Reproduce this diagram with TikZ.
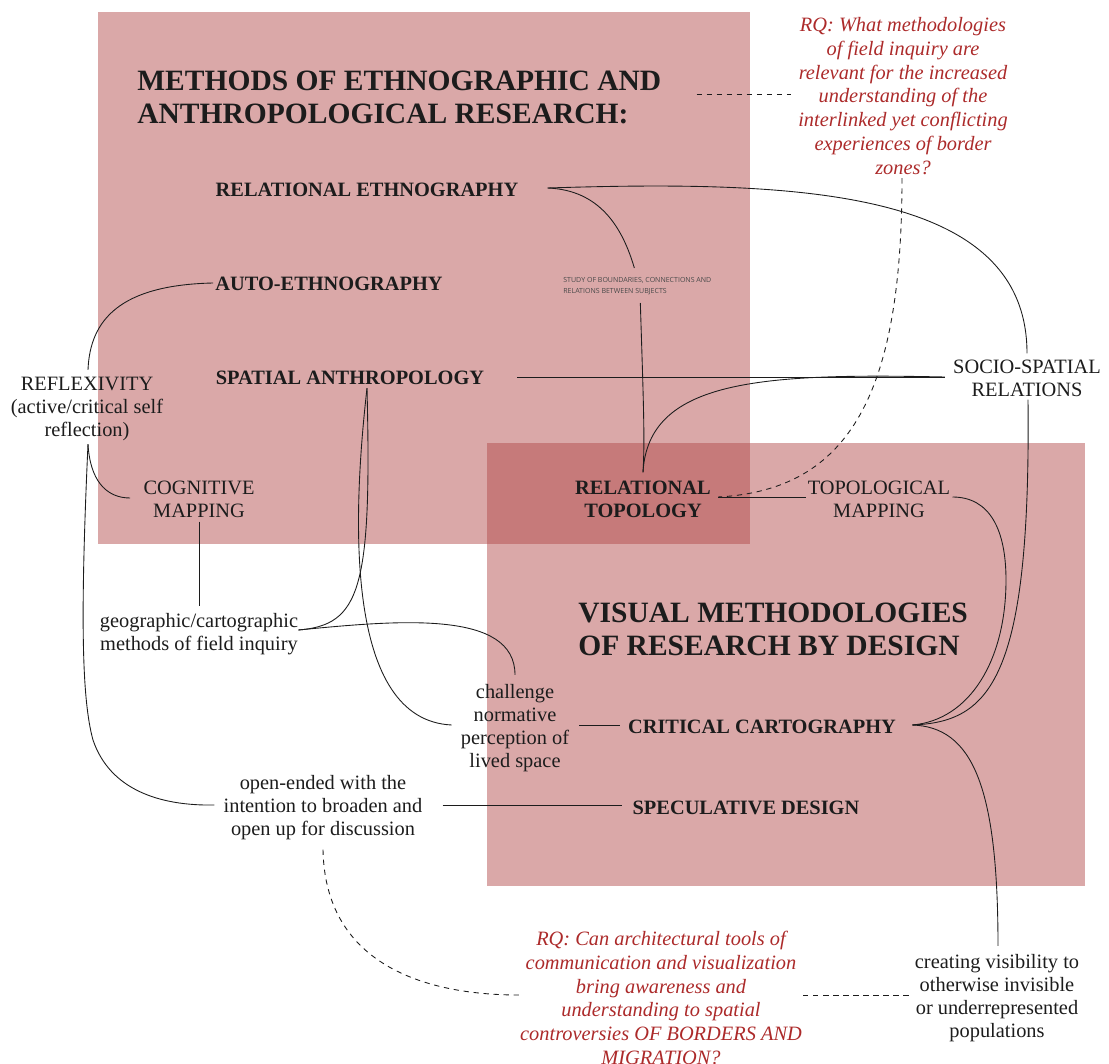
\documentclass[tikz,border=0pt]{standalone}
\usepackage{fontspec}
\setmainfont{Liberation Serif}
\newfontfamily\studyfont{Open Sans}
\usepackage{xcolor}
\usepackage{tikz}
\usetikzlibrary{positioning,%
  calc
}

\definecolor{boxred}{RGB}{174,66,66}
\definecolor{rqred}{RGB}{172,42,42}
\definecolor{inkblack}{RGB}{28,28,28}

\begin{document}
\begin{tikzpicture}[x=0.02cm,y=-0.02cm,
            every node/.style={inner sep=0pt,text=inkblack},
            plain/.style={align=center,font=\fontsize{11.6}{13.1}\selectfont},
            method/.style={align=center,font=\fontsize{11.6}{13.1}\selectfont\bfseries},
            heading/.style={align=left,anchor=west,font=\fontsize{16.8}{18.8}\selectfont\bfseries},
            question/.style={align=center,text=rqred,font=\fontsize{11.6}{13.6}\selectfont\itshape},
            link/.style={draw=inkblack,line width=0.5pt},
            qlink/.style={link,dash pattern=on 3pt off 2.7pt}]
            \useasboundingbox (0,0) rectangle (1109,1064);

            \fill[boxred,fill opacity=0.46] (98,12) rectangle (750,544);
            \fill[boxred,fill opacity=0.46] (487,443) rectangle (1085,886);

            \node[heading] (methods) at (137,97) {METHODS OF ETHNOGRAPHIC AND\\ANTHROPOLOGICAL RESEARCH:};
            \node[question] (rqOne) at (903,96) {RQ: What methodologies\\of field inquiry are\\relevant for the increased\\understanding of the\\interlinked yet conflicting\\experiences of border\\zones?};
            \node[method] (relEth) at (367,190) {RELATIONAL ETHNOGRAPHY};
            \node[method] (autoEth) at (329,284) {AUTO-ETHNOGRAPHY};
            \node[method] (spatAnth) at (350,378) {SPATIAL ANTHROPOLOGY};
            \node[align=left,anchor=west,text=inkblack!80,font=\studyfont\fontsize{4.0}{6.2}\selectfont] (study) at (563,286) {STUDY OF BOUNDARIES, CONNECTIONS AND\\RELATIONS BETWEEN SUBJECTS};
            \node[plain] (reflex) at (87,409) {REFLEXIVITY\\(active/critical self\\reflection)};
            \node[plain] (cogMap) at (199,499) {COGNITIVE\\MAPPING};
            \node[method] (relTop) at (643,499) {RELATIONAL\\TOPOLOGY};
            \node[plain] (topMap) at (879,499) {TOPOLOGICAL\\MAPPING};
            \node[plain] (socio) at (1027,378) {SOCIO-SPATIAL\\RELATIONS};
            \node[plain] (geo) at (199,634) {geographic/cartographic\\methods of field inquiry};
            \node[heading] (visual) at (578,629) {VISUAL METHODOLOGIES\\OF RESEARCH BY DESIGN};
            \node[plain] (challenge) at (515,728) {challenge\\normative\\perception of\\lived space};
            \node[method] (critCart) at (762,727) {CRITICAL CARTOGRAPHY};
            \node[plain] (openEnded) at (323,808) {open-ended with the\\intention to broaden and\\open up for discussion};
            \node[method] (specDes) at (746,808) {SPECULATIVE DESIGN};
            \node[question] (rqTwo) at (661,998) {RQ: Can architectural tools of\\communication and visualization\\bring awareness and\\understanding to spatial\\controversies OF BORDERS AND\\MIGRATION?};
            \node[plain] (creating) at (997,998) {creating visibility to\\otherwise invisible\\or underrepresented\\populations};

            \draw[qlink] ($(methods.east)+(35,-3)$) -- ($(rqOne.west)+(-7,-2)$);
            \draw[link] ($(relEth.east)+(29,-2)$) .. controls +(252,-8) and +(0,-164) .. ($(socio.north)+(0,-6)$);
            \draw[link] ($(relEth.east)+(29,-2)$) .. controls +(52,2) and +(-12,-41) .. ($(study.north)+(-3,-9)$);
            \draw[link] ($(study.south)+(3,8)$) .. controls +(3,96) and +(2,-33) .. ($(relTop.north)+(0,-8)$);
            \draw[link] ($(relTop.north)+(0,-8)$) .. controls (648,380) and (760,373) .. ($(socio.west)+(-8,-1)$);
            \draw[link] ($(spatAnth.east)+(33,-1)$) -- ($(socio.west)+(-8,-1)$);
            \draw[link] ($(socio.south)+(1,3)$) .. controls (1031,680) and (990,722) .. ($(critCart.east)+(16,-2)$);
            \draw[link] ($(topMap.east)+(2,-2)$) .. controls (990,497) and (1006,530) .. (1006,580)
                .. controls (1006,660) and (970,720) .. ($(critCart.east)+(16,-2)$);
            \draw[link] ($(critCart.east)+(16,-2)$) .. controls +(60,2) and +(0,-160) .. ($(creating.north)+(1,-8)$);
            \draw[link] ($(relTop.east)+(7,-2)$) -- ($(topMap.west)+(-2,-2)$);
            \draw[qlink] ($(rqOne.south)+(-1,3)$) .. controls +(0,213) and +(133,-7) .. ($(relTop.east)+(7,-2)$);

            \draw[link] ($(autoEth.west)+(-2,-1)$) .. controls +(-93,2) and +(2,-50) .. ($(reflex.north)+(1,-7)$);
            \draw[link] ($(reflex.south)+(1,3)$) .. controls +(2,35) and +(-25,0) .. ($(cogMap.west)+(-13,-1)$);
            \draw[link] ($(reflex.south)+(1,3)$) .. controls (80,620) and (82,700) .. (93,740)
                .. controls (110,790) and (160,806) .. ($(openEnded.west)+(-9,-3)$);
            \draw[link] ($(cogMap.south)+(0,4)$) -- ($(geo.north)+(0,-7)$);
            \draw[link] ($(geo.east)+(0,-4)$) .. controls (360,625) and (372,590) .. ($(spatAnth.south)+(17,3)$);
            \draw[link] ($(spatAnth.south)+(17,3)$) .. controls (352,520) and (345,720) .. ($(challenge.west)+(-9,-3)$);
            \draw[link] ($(geo.east)+(0,-4)$) .. controls (400,620) and (515,610) .. ($(challenge.north)+(0,-9)$);
            \draw[link] ($(challenge.east)+(10,-3)$) -- ($(critCart.west)+(-8,-2)$);
            \draw[link] ($(openEnded.east)+(20,-3)$) -- ($(specDes.west)+(-10,-3)$);
            \draw[qlink] ($(openEnded.south)+(0,9)$) .. controls +(2,113) and +(-97,0) .. ($(rqTwo.west)+(-1,-3)$);
            \draw[qlink] ($(rqTwo.east)+(1,-3)$) -- ($(creating.west)+(-2,-3)$);
        \end{tikzpicture}
\end{document}
